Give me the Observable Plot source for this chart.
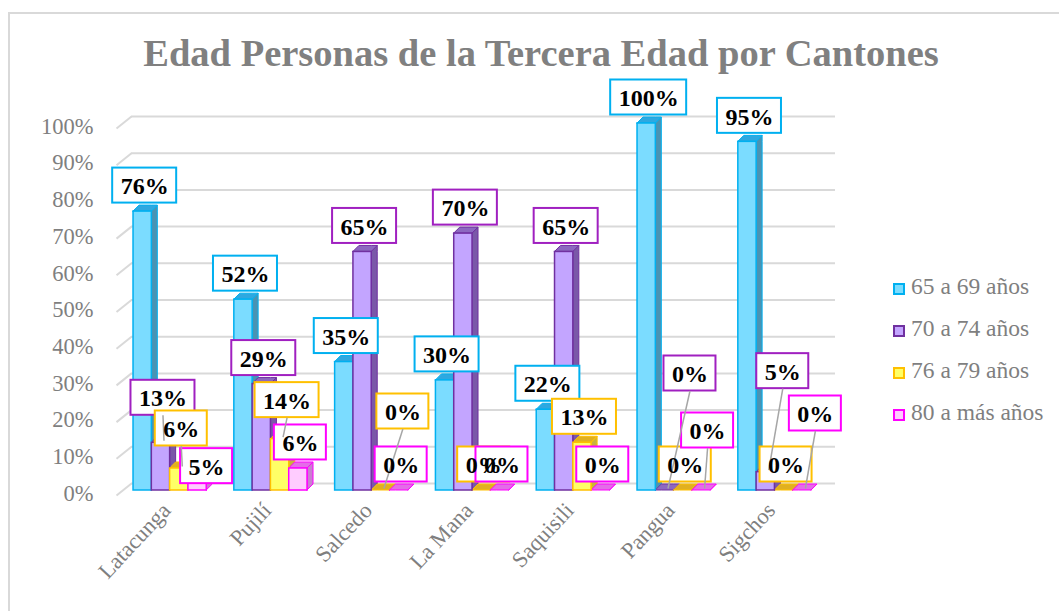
<!DOCTYPE html>
<html>
<head>
<meta charset="utf-8">
<script src="https://cdn.jsdelivr.net/npm/d3@7"></script>
<script src="https://cdn.jsdelivr.net/npm/@observablehq/plot@0.6"></script>
<style>
  body { margin: 0; background: #fff; }
  #wrap { position: relative; width: 1059px; height: 611px; overflow: hidden;
          font-family: "Liberation Serif", "Times New Roman", serif; }
  #frame { position: absolute; left: 8px; top: 12px; width: 1060px; height: 620px;
           border: 2px solid #d9d9d9; box-sizing: border-box; }
  #chart { position: absolute; left: 0; top: 0; }
  #title { position: absolute; left: 0; top: 34px; width: 1082px; text-align: center;
           font-size: 38.5px; line-height: 38px; font-weight: bold; color: #808080; white-space: nowrap; }
  #legend { position: absolute; left: 893px; top: 265px; }
  .item { height: 42px; line-height: 42px; font-size: 23.5px; color: #7f7f7f; white-space: nowrap; }
  .sw { display: inline-block; width: 12px; height: 12px; box-sizing: border-box; border: 2px solid;
        margin-right: 6px; vertical-align: -1px; }
</style>
</head>
<body>
<div id="wrap">
  <div id="frame"></div>
  <div id="chart"></div>
  <div id="title">Edad Personas de la Tercera Edad por Cantones</div>
  <div id="legend"></div>
</div>
<script>
// ---------- data ----------
const cantones = ["Latacunga", "Pujilí", "Salcedo", "La Mana", "Saquisili", "Pangua", "Sigchos"];
const series = ["65 a 69 años", "70 a 74 años", "76 a 79 años", "80 a más años"];
const edad65a69 = [76, 52, 35, 30, 22, 100, 95];
const edad70a74 = [13, 29, 65, 70, 65, 0, 5];
const edad76a79 = [6, 14, 0, 0, 13, 0, 0];
const edad80mas = [5, 6, 0, 0, 0, 0, 0];
const yTicks = [0, 10, 20, 30, 40, 50, 60, 70, 80, 90, 100];

// ---------- styles ----------
const frontFill = ["#7bdcff", "#c3a5ff", "#ffff66", "#ffccff"];
const edgeColor = ["#00b0f0", "#7030a0", "#ffc000", "#ff00ff"];
const sideFill  = ["#4a93b3", "#7a58a8", "#c8b43c", "#c97fd0"];
const topFill   = ["#2ea8e0", "#8c68c0", "#e0b020", "#e46ce8"];
const boxColor  = ["#00b0f0", "#a020c0", "#ffc000", "#ff00ff"];
// manual label displacements (pixels) as in the original chart
const labelNudge = {"0-1": [0, -19], "0-2": [0, -14], "0-3": [7, 20], "1-2": [5, -13],
  "2-2": [20, -53], "5-1": [23, -91], "5-3": [4, -34], "6-1": [15, -75], "6-3": [11, -51]};

const values = [edad65a69, edad70a74, edad76a79, edad80mas];

// ---------- scales / geometry ----------
const xDomain = [-0.536, 6.597], xRange = [116, 835];
const yDomain = [0, 100], yRange = [490, 123];
const pxX = (xRange[1] - xRange[0]) / (xDomain[1] - xDomain[0]);
const pxY = (yRange[0] - yRange[1]) / (yDomain[1] - yDomain[0]);
const BW = 18.3 / pxX, G0 = -37 / pxX, DX = 6 / pxX, DY = 6 / pxY;

const bars = [];
cantones.forEach((c, i) => values.forEach((vals, s) => {
  const x1 = i + G0 + s * BW;
  bars.push({i, s, v: vals[i], id: i * 4 + s, x1, x2: x1 + BW, xc: x1 + BW / 2, zero: 0});
}));

const sidePts = bars.flatMap(b => {
  const ys = [0, Math.min(b.v, DY), Math.max(b.v, DY), b.v + DY];
  return ys.map(y => ({id: b.id, s: b.s, y,
    xa: b.x2 + (y <= b.v ? 0 : (y - b.v) / DY * DX),
    xb: b.x2 + Math.min(y / DY, 1) * DX}));
});
const topPts = bars.flatMap(b => [
  {x: b.x1, lo: b.v, hi: b.v},
  {x: b.x1 + DX, lo: b.v, hi: b.v + DY},
  {x: b.x2, lo: b.v, hi: b.v + DY},
  {x: b.x2 + DX, lo: b.v + DY, hi: b.v + DY}
].map(p => ({...p, id: b.id, s: b.s})));

const labels = bars.map(b => {
  const [ndx, ndy] = labelNudge[`${b.i}-${b.s}`] || [0, 0];
  const text = b.v + "%";
  const wpx = 12 * String(b.v).length + 24 + 16;
  const lx = b.xc + (2 + ndx) / pxX;
  const ly = b.v + (26 - ndy) / pxY;
  return {...b, text, lx, ly, leader: ndy < -10,
    bx1: lx - wpx / 2 / pxX, bx2: lx + wpx / 2 / pxX,
    by1: ly - 17.5 / pxY, by2: ly + 17.5 / pxY,
    tx: b.xc + 3 / pxX, ty: b.v + 2 / pxY};
});

const grid = yTicks.map(t => ({t, gx1: xDomain[0], gx2: xDomain[0] + 15 / pxX,
  gy1: t - 5 / pxY, gy2: t + 7 / pxY}));

const plot = Plot.plot({
  width: 1059, height: 611,
  marginLeft: 116, marginRight: 224, marginTop: 123, marginBottom: 121,
  x: {domain: xDomain, range: xRange, axis: null},
  y: {domain: yDomain, range: yRange, axis: null},
  color: {type: "identity"},
  style: {fontFamily: "'Liberation Serif', 'Times New Roman', serif", background: "transparent",
          color: "#7f7f7f", overflow: "visible"},
  marks: [
    Plot.ruleY(grid, {y: "t", dy: -7, insetLeft: 15, stroke: "#d9d9d9", strokeWidth: 2}),
    Plot.link(grid, {x1: "gx1", x2: "gx2", y1: "gy1", y2: "gy2", stroke: "#d9d9d9", strokeWidth: 2}),
    Plot.axisY({ticks: yTicks, tickFormat: d => d + "%", tickSize: 0, tickPadding: 23, fontSize: 22.5, dy: 3}),
    Plot.axisX({ticks: d3.range(cantones.length), tickFormat: i => cantones[i], tickRotate: -47,
      tickSize: 0, tickPadding: 16, dx: -4, fontSize: 22.5}),
    Plot.areaX(sidePts, {y: "y", x1: "xa", x2: "xb", z: "id", fill: d => sideFill[d.s],
      stroke: d => edgeColor[d.s], strokeWidth: 1, curve: "linear"}),
    Plot.areaY(topPts, {x: "x", y1: "lo", y2: "hi", z: "id", fill: d => topFill[d.s],
      stroke: d => edgeColor[d.s], strokeWidth: 1, curve: "linear"}),
    Plot.rect(bars.filter(b => b.v > 0), {x1: "x1", x2: "x2", y1: "zero", y2: "v",
      fill: d => frontFill[d.s], stroke: d => edgeColor[d.s], strokeWidth: 1.5}),
    Plot.rect(labels, {x1: "bx1", x2: "bx2", y1: "by1", y2: "by2", fill: "white",
      stroke: d => boxColor[d.s], strokeWidth: 2}),
    Plot.link(labels.filter(d => d.leader), {x1: "lx", y1: "by1", x2: "tx", y2: "ty",
      stroke: "#a6a6a6", strokeWidth: 1.5}),
    Plot.text(labels, {x: "lx", y: "ly", text: "text", fontSize: 24, fontWeight: "bold",
      fill: "black", dy: 1})
  ]
});
document.getElementById("chart").appendChild(plot);

const legend = document.getElementById("legend");
series.forEach((name, s) => {
  const row = document.createElement("div");
  row.className = "item";
  const sw = document.createElement("span");
  sw.className = "sw";
  sw.style.background = frontFill[s];
  sw.style.borderColor = edgeColor[s];
  row.appendChild(sw);
  row.appendChild(document.createTextNode(name));
  legend.appendChild(row);
});
</script>
</body>
</html>
